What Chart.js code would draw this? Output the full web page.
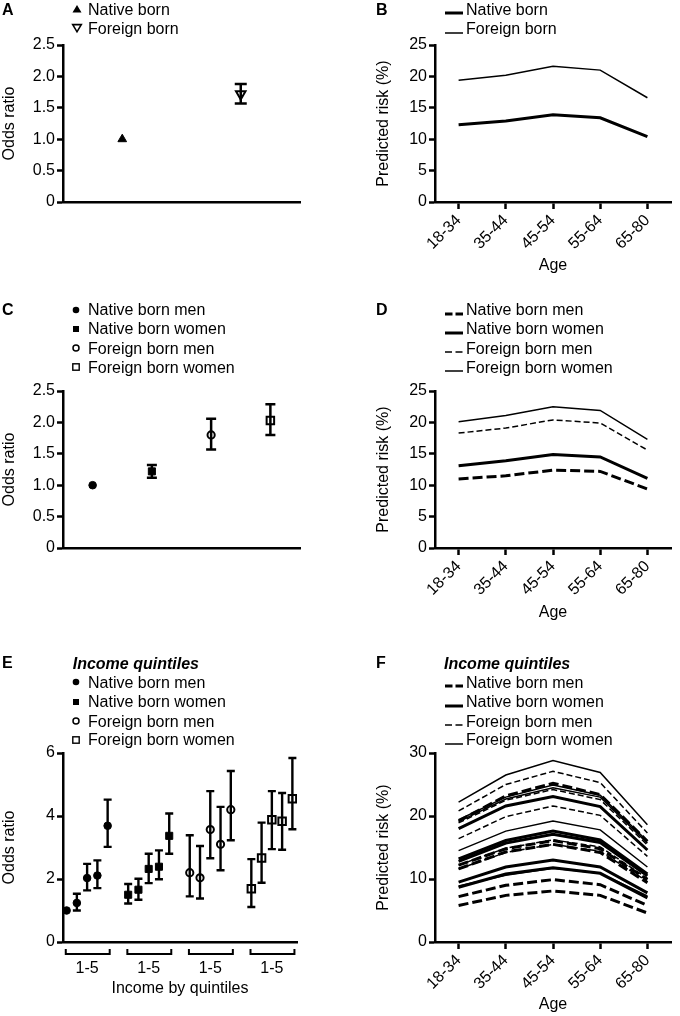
<!DOCTYPE html>
<html><head><meta charset="utf-8">
<script src="https://cdn.jsdelivr.net/npm/chart.js@4.4.1/dist/chart.umd.min.js"></script>
<style>
html,body{margin:0;padding:0;background:#fff;}
body{width:680px;height:1016px;position:relative;overflow:hidden;font-family:"Liberation Sans",Arial,Helvetica,sans-serif;color:#000;}
.pl{position:absolute;font-weight:bold;font-size:16px;line-height:18px;}
.leg{position:absolute;font-size:16px;line-height:19px;white-space:nowrap;}
.mk{position:absolute;}
</style></head><body>
<script>
// ---------- DATA ----------
// Panel A
const aGroups = ['Native born', 'Foreign born'];
const aOR = [1.00, 1.72];
const aLo = [null, 1.57];
const aHi = [null, 1.88];

// Panel B
const ageLabels = ['18-34', '35-44', '45-54', '55-64', '65-80'];
const bNative = [12.3, 12.9, 13.9, 13.4, 10.4];
const bForeign = [19.4, 20.2, 21.6, 21.0, 16.6];

// Panel C
const cGroups = ['Native born men', 'Native born women', 'Foreign born men', 'Foreign born women'];
const cOR = [1.00, 1.22, 1.80, 2.03];
const cLo = [null, 1.12, 1.57, 1.80];
const cHi = [null, 1.32, 2.06, 2.29];

// Panel D
const dNBM = [11.0, 11.5, 12.4, 12.2, 9.4];
const dNBW = [13.1, 13.9, 14.9, 14.5, 11.1];
const dFBM = [18.3, 19.1, 20.4, 19.9, 15.6];
const dFBW = [20.1, 21.1, 22.5, 21.9, 17.3];

// Panel E (income quintiles 1-5 within each group)
const eTickLabels = ['1-5', '1-5', '1-5', '1-5'];
const eNBM = [1.00, 1.24, 2.03, 2.11, 3.69];
const eNBMlo = [null, 1.00, 1.64, 1.71, 3.02];
const eNBMhi = [null, 1.53, 2.48, 2.59, 4.52];
const eNBW = [1.50, 1.66, 2.32, 2.39, 3.37];
const eNBWlo = [1.22, 1.34, 1.87, 1.99, 2.80];
const eNBWhi = [1.84, 2.01, 2.80, 2.91, 4.08];
const eFBM = [2.20, 2.04, 3.57, 3.10, 4.20];
const eFBMlo = [1.45, 1.38, 2.66, 2.28, 3.23];
const eFBMhi = [3.39, 3.05, 4.79, 4.29, 5.43];
const eFBW = [1.69, 2.67, 3.88, 3.83, 4.55];
const eFBWlo = [1.11, 1.88, 2.95, 2.93, 3.58];
const eFBWhi = [2.63, 3.79, 4.79, 4.73, 5.84];

// Panel F (one row per income quintile, values per age group)
const fNBM = [
  [5.8, 7.4, 8.1, 7.4, 4.6],
  [7.2, 9.0, 9.9, 9.1, 5.8],
  [11.6, 14.3, 15.5, 14.2, 9.4],
  [12.2, 14.8, 16.1, 14.8, 9.9],
  [19.2, 23.2, 25.2, 23.4, 16.0]
];
const fNBW = [
  [8.7, 10.8, 11.8, 10.9, 7.0],
  [9.5, 11.9, 13.0, 11.9, 7.8],
  [12.8, 15.7, 17.1, 15.8, 10.5],
  [13.2, 16.1, 17.6, 16.2, 10.8],
  [18.0, 21.6, 23.1, 21.5, 14.6]
];
const fFBM = [
  [12.2, 14.9, 16.2, 15.1, 10.1],
  [11.6, 14.2, 15.5, 14.4, 9.6],
  [18.9, 22.5, 24.2, 22.6, 15.4],
  [16.4, 19.9, 21.6, 20.1, 13.6],
  [20.8, 25.0, 27.1, 25.3, 17.3]
];
const fFBW = [
  [8.9, 10.6, 11.7, 10.9, 7.3],
  [14.5, 17.6, 19.2, 17.8, 11.9],
  [19.4, 23.0, 24.9, 23.3, 16.0],
  [19.1, 22.7, 24.5, 23.0, 15.7],
  [22.2, 26.5, 28.8, 26.9, 18.6]
];

// ---------- STYLE / SETUP ----------
const FONT = '"Liberation Sans", Arial, Helvetica, sans-serif';
Chart.defaults.font.family = FONT;
Chart.defaults.font.size = 16;
Chart.defaults.color = '#000';
Chart.defaults.animation = false;
Chart.defaults.plugins.legend.display = false;
Chart.defaults.plugins.tooltip.enabled = false;

const errorBars = {
  id: 'errorBars',
  afterDatasetsDraw(chart, args, opts) {
    const ctx = chart.ctx, ys = chart.scales.y;
    chart.data.datasets.forEach((ds, i) => {
      if (!ds.errLo) return;
      const meta = chart.getDatasetMeta(i);
      meta.data.forEach((pt, j) => {
        const lo = ds.errLo[j], hi = ds.errHi[j];
        if (lo == null || hi == null || pt.skip) return;
        const x = pt.x, y1 = ys.getPixelForValue(lo), y2 = ys.getPixelForValue(hi), c = opts.cap;
        ctx.save();
        ctx.strokeStyle = '#000'; ctx.lineWidth = opts.width; ctx.lineCap = 'butt';
        ctx.beginPath();
        ctx.moveTo(x, y1); ctx.lineTo(x, y2);
        ctx.moveTo(x - c, y1); ctx.lineTo(x + c, y1);
        ctx.moveTo(x - c, y2); ctx.lineTo(x + c, y2);
        ctx.stroke();
        ctx.restore();
      });
    });
  }
};

const brackets = {
  id: 'brackets',
  afterDraw(chart, args, opts) {
    if (!opts.groups) return;
    const ctx = chart.ctx, xs = chart.scales.x;
    const yb = chart.chartArea.bottom + opts.dy;
    ctx.save();
    ctx.strokeStyle = '#000'; ctx.lineWidth = 2;
    opts.groups.forEach(g => {
      const x1 = xs.getPixelForValue(g.from), x2 = xs.getPixelForValue(g.to);
      ctx.beginPath();
      ctx.moveTo(x1, yb - opts.h); ctx.lineTo(x1, yb); ctx.lineTo(x2, yb); ctx.lineTo(x2, yb - opts.h);
      ctx.stroke();
    });
    ctx.restore();
  }
};
Chart.register(errorBars, brackets);

function mk(left, top, w, h) {
  const c = document.createElement('canvas');
  c.width = w; c.height = h;
  c.style.cssText = `position:absolute;left:${left}px;top:${top}px;width:${w}px;height:${h}px`;
  document.body.appendChild(c);
  return c;
}

function yScale(min, max, step, title, width, fmt) {
  return {
    type: 'linear', min, max,
    ticks: { stepSize: step, padding: 2, color: '#000', font: { size: 16 }, callback: fmt || (v => v) },
    grid: { drawOnChartArea: false, drawTicks: true, tickLength: 6, tickWidth: 2.5, tickColor: '#000' },
    border: { display: true, color: '#000', width: 2.5 },
    title: { display: true, text: title, color: '#000', font: { size: 16 }, padding: { top: 0, bottom: 0 } },
    afterFit: s => { s.width = width; }
  };
}
function plainX(height) {
  return {
    type: 'category', offset: true,
    ticks: { display: false },
    grid: { drawOnChartArea: false, drawTicks: false },
    border: { display: true, color: '#000', width: 2.5 },
    afterFit: s => { s.height = height; }
  };
}
function ageX(height) {
  return {
    type: 'category', offset: true,
    ticks: { minRotation: 45, maxRotation: 45, padding: 2, autoSkip: false, color: '#000', font: { size: 16 } },
    grid: { drawOnChartArea: false, drawTicks: true, tickLength: 7, tickWidth: 2.5, tickColor: '#000', offset: false },
    border: { display: true, color: '#000', width: 2.5 },
    title: { display: true, text: 'Age', color: '#000', font: { size: 16 }, padding: { top: 0, bottom: 0 } },
    afterFit: s => { s.height = height; }
  };
}
function lineDS(label, data, thick, dashed) {
  return {
    label, data, borderColor: '#000', backgroundColor: '#000',
    borderWidth: thick ? 3 : 1.5,
    borderDash: dashed ? (thick ? [10, 4] : [6, 3]) : [],
    pointRadius: 0, tension: 0, fill: false, borderJoinStyle: 'miter', borderCapStyle: 'butt'
  };
}
const oneDec = v => (v === 0 ? '0' : Number(v).toFixed(1));

// marker styles for the four groups
const grpStyle = [
  { pointStyle: 'circle', pointRadius: 3.8, pointBackgroundColor: '#000', pointBorderColor: '#000', pointBorderWidth: 1 },
  { pointStyle: 'rect', pointRadius: 5, pointBackgroundColor: '#000', pointBorderColor: '#000', pointBorderWidth: 1 },
  { pointStyle: 'circle', pointRadius: 3.6, pointBackgroundColor: '#fff', pointBorderColor: '#000', pointBorderWidth: 2 },
  { pointStyle: 'rect', pointRadius: 5.3, pointBackgroundColor: '#fff', pointBorderColor: '#000', pointBorderWidth: 2 }
];
const lineStyle = [[true, true], [true, false], [false, true], [false, false]];

// ---------- PANEL A ----------
new Chart(mk(0, 0, 340, 260), {
  type: 'line',
  data: {
    labels: aGroups,
    datasets: aGroups.map((g, i) => Object.assign({
      label: g,
      data: aGroups.map((_, j) => (j === i ? aOR[i] : null)),
      errLo: aGroups.map((_, j) => (j === i ? aLo[i] : null)),
      errHi: aGroups.map((_, j) => (j === i ? aHi[i] : null)),
      showLine: false
    }, i === 0
      ? { pointStyle: 'triangle', pointRadius: 5, pointBackgroundColor: '#000', pointBorderColor: '#000', pointBorderWidth: 1 }
      : { pointStyle: 'triangle', rotation: 180, pointRotation: 180, pointRadius: 5.5, pointBackgroundColor: '#fff', pointBorderColor: '#000', pointBorderWidth: 2 }))
  },
  options: {
    responsive: false, devicePixelRatio: 1,
    layout: { padding: { top: 45, right: 40, bottom: 58, left: 0 } },
    scales: { x: plainX(0), y: yScale(0, 2.5, 0.5, 'Odds ratio', 63, oneDec) },
    plugins: { errorBars: { width: 2.5, cap: 6 } }
  }
});

// ---------- PANEL B ----------
new Chart(mk(374, 0, 306, 280), {
  type: 'line',
  data: {
    labels: ageLabels,
    datasets: [lineDS('Native born', bNative, true, false), lineDS('Foreign born', bForeign, false, false)]
  },
  options: {
    responsive: false, devicePixelRatio: 1,
    layout: { padding: { top: 45, right: 9, bottom: 4.4, left: 0 } },
    scales: { x: ageX(73.6), y: yScale(0, 25, 5, 'Predicted risk (%)', 61) }
  }
});

// ---------- PANEL C ----------
new Chart(mk(0, 300, 340, 260), {
  type: 'line',
  data: {
    labels: cGroups,
    datasets: cGroups.map((g, i) => Object.assign({
      label: g,
      data: cGroups.map((_, j) => (j === i ? cOR[i] : null)),
      errLo: cGroups.map((_, j) => (j === i ? cLo[i] : null)),
      errHi: cGroups.map((_, j) => (j === i ? cHi[i] : null)),
      showLine: false
    }, grpStyle[i]))
  },
  options: {
    responsive: false, devicePixelRatio: 1,
    layout: { padding: { top: 91, right: 40, bottom: 12, left: 0 } },
    scales: { x: plainX(0), y: yScale(0, 2.5, 0.5, 'Odds ratio', 63, oneDec) },
    plugins: { errorBars: { width: 2.5, cap: 5 } }
  }
});

// ---------- PANEL D ----------
const dSeries = [dNBM, dNBW, dFBM, dFBW];
new Chart(mk(374, 300, 306, 330), {
  type: 'line',
  data: {
    labels: ageLabels,
    datasets: cGroups.map((g, i) => lineDS(g, dSeries[i], lineStyle[i][0], lineStyle[i][1]))
  },
  options: {
    responsive: false, devicePixelRatio: 1,
    layout: { padding: { top: 91, right: 9, bottom: 8, left: 0 } },
    scales: { x: ageX(74), y: yScale(0, 25, 5, 'Predicted risk (%)', 61) }
  }
});

// ---------- PANEL E ----------
const eVals = [eNBM, eNBW, eFBM, eFBW];
const eLos = [eNBMlo, eNBWlo, eFBMlo, eFBWlo];
const eHis = [eNBMhi, eNBWhi, eFBMhi, eFBWhi];
const eStride = 6; // slot spacing between groups
new Chart(mk(0, 640, 340, 376), {
  type: 'scatter',
  data: {
    datasets: cGroups.map((g, i) => Object.assign({
      label: g,
      data: eVals[i].map((v, q) => ({ x: i * eStride + q, y: v })),
      errLo: eLos[i], errHi: eHis[i]
    }, grpStyle[i]))
  },
  options: {
    responsive: false, devicePixelRatio: 1,
    layout: { padding: { top: 113, right: 43, bottom: 17.4, left: 0 } },
    scales: {
      x: {
        type: 'linear', min: -0.35, max: 22.45,
        afterBuildTicks: s => { s.ticks = eTickLabels.map((_, g) => ({ value: g * eStride + 2 })); },
        ticks: { padding: 17, color: '#000', font: { size: 16 }, callback: (v, i) => eTickLabels[i] },
        grid: { drawOnChartArea: false, drawTicks: false },
        border: { display: true, color: '#000', width: 2.5 },
        title: { display: true, text: 'Income by quintiles', color: '#000', font: { size: 16 }, padding: { top: 0, bottom: 0 } },
        afterFit: s => { s.height = 56.6; }
      },
      y: yScale(0, 6, 2, 'Odds ratio', 63)
    },
    plugins: {
      errorBars: { width: 2.4, cap: 4 },
      brackets: { dy: 12, h: 5, groups: eTickLabels.map((_, g) => ({ from: g * eStride - 0.08, to: g * eStride + 4.2 })) }
    }
  }
});

// ---------- PANEL F ----------
const fSeries = [fNBM, fNBW, fFBM, fFBW];
const fDatasets = [];
[3, 2, 1, 0].forEach(i => {
  fSeries[i].forEach((row, q) => {
    fDatasets.push(lineDS(cGroups[i] + ' Q' + (q + 1), row, lineStyle[i][0], lineStyle[i][1]));
  });
});
new Chart(mk(374, 640, 306, 376), {
  type: 'line',
  data: { labels: ageLabels, datasets: fDatasets },
  options: {
    responsive: false, devicePixelRatio: 1,
    layout: { padding: { top: 113, right: 9, bottom: 1.4, left: 0 } },
    scales: { x: ageX(72.6), y: yScale(0, 30, 10, 'Predicted risk (%)', 61) }
  }
});

// ---------- LEGENDS (HTML) ----------
const SVGNS = 'http://www.w3.org/2000/svg';
function addText(text, x, cy, extra) {
  const d = document.createElement('div');
  d.className = 'leg';
  d.style.left = x + 'px';
  d.style.top = (cy - 9.25) + 'px';
  if (extra) d.style.cssText += extra;
  d.textContent = text;
  document.body.appendChild(d);
}
function addMarker(inner, cx, cy) {
  const wrap = document.createElement('div');
  wrap.className = 'mk';
  wrap.style.left = (cx - 10) + 'px';
  wrap.style.top = (cy - 10) + 'px';
  wrap.innerHTML = `<svg xmlns="${SVGNS}" width="20" height="20" viewBox="0 0 20 20">${inner}</svg>`;
  document.body.appendChild(wrap);
}
function addLineSample(x1, x2, cy, thick, dashed) {
  const w = x2 - x1;
  const wrap = document.createElement('div');
  wrap.className = 'mk';
  wrap.style.left = x1 + 'px';
  wrap.style.top = (cy - 5) + 'px';
  const sw = thick ? 3 : 1.5;
  const da = dashed ? (thick ? '7.5 3' : '7 3.5') : 'none';
  wrap.innerHTML = `<svg xmlns="${SVGNS}" width="${w}" height="10"><line x1="0" y1="5" x2="${w}" y2="5" stroke="#000" stroke-width="${sw}" stroke-dasharray="${da}"/></svg>`;
  document.body.appendChild(wrap);
}
const mkInner = [
  '<circle cx="10" cy="10" r="3.3" fill="#000"/>',
  '<rect x="7" y="7" width="6" height="6" fill="#000"/>',
  '<circle cx="10" cy="10" r="3" fill="#fff" stroke="#000" stroke-width="1.5"/>',
  '<rect x="6.8" y="6.8" width="6.4" height="6.4" fill="#fff" stroke="#000" stroke-width="1.4"/>'
];

// A legend
const aRows = [9.2, 28.5];
addMarker('<polygon points="10,6 14.5,13.5 5.5,13.5" fill="#000"/>', 77, aRows[0] - 0.3);
addMarker('<polygon points="5.7,6.6 14.3,6.6 10,13.8" fill="#fff" stroke="#000" stroke-width="1.6"/>', 77, aRows[1] - 0.5);
aGroups.forEach((g, i) => addText(g, 88, aRows[i]));

// B legend
[true, false].forEach((thick, i) => addLineSample(445, 463, aRows[i], thick, false));
['Native born', 'Foreign born'].forEach((g, i) => addText(g, 466, aRows[i]));

// C & D legends
const cRows = [309.5, 328.7, 347.9, 367.1];
cGroups.forEach((g, i) => {
  addMarker(mkInner[i], 76, cRows[i]);
  addText(g, 88, cRows[i]);
  addLineSample(445, 463, cRows[i], lineStyle[i][0], lineStyle[i][1]);
  addText(g, 466, cRows[i]);
});

// E & F legends
const eTitleY = 662.8;
const eRows = [682.4, 701.5, 720.8, 739.5];
addText('Income quintiles', 72.7, eTitleY, 'font-weight:bold;font-style:italic;');
addText('Income quintiles', 444, eTitleY, 'font-weight:bold;font-style:italic;');
cGroups.forEach((g, i) => {
  addMarker(mkInner[i], 76, eRows[i]);
  addText(g, 88, eRows[i]);
  addLineSample(445, 463, eRows[i], lineStyle[i][0], lineStyle[i][1]);
  addText(g, 466, eRows[i]);
});

// Panel letters
[['A', 2, 1], ['B', 376, 1], ['C', 2, 301], ['D', 376, 301], ['E', 2, 654], ['F', 376, 654]].forEach(p => {
  const d = document.createElement('div');
  d.className = 'pl';
  d.style.left = p[1] + 'px';
  d.style.top = p[2] + 'px';
  d.textContent = p[0];
  document.body.appendChild(d);
});
</script>
</body></html>
